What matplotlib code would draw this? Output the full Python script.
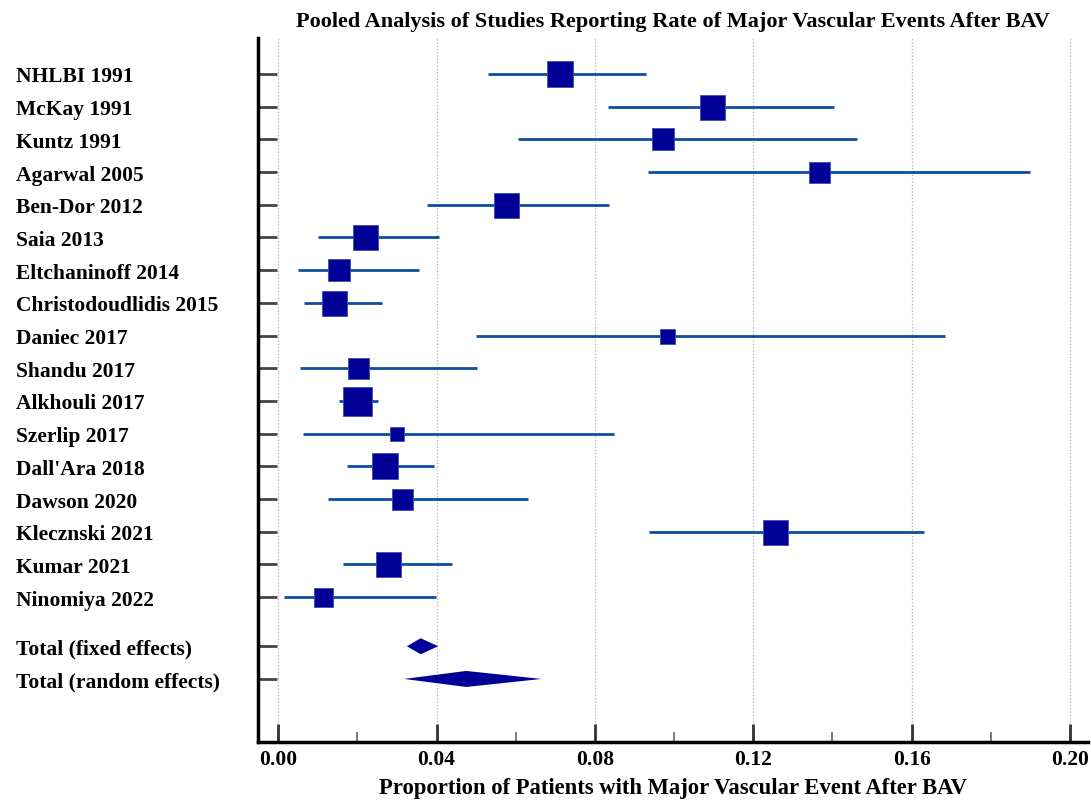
import matplotlib
matplotlib.use("Agg")
import matplotlib.pyplot as plt
from matplotlib.ticker import MultipleLocator

# Study-level estimates
studies = ["NHLBI 1991", "McKay 1991", "Kuntz 1991", "Agarwal 2005", "Ben-Dor 2012",
           "Saia 2013", "Eltchaninoff 2014", "Christodoudlidis 2015", "Daniec 2017",
           "Shandu 2017", "Alkhouli 2017", "Szerlip 2017", "Dall'Ara 2018",
           "Dawson 2020", "Klecznski 2021", "Kumar 2021", "Ninomiya 2022"]
estimate = [0.0712, 0.1096, 0.0973, 0.1365, 0.0575, 0.0218, 0.0154, 0.0141, 0.0981,
            0.0202, 0.0200, 0.0301, 0.0270, 0.0313, 0.1255, 0.0277, 0.0112]
ci_low = [0.0529, 0.0833, 0.0605, 0.0934, 0.0376, 0.0100, 0.0051, 0.0065, 0.0499,
          0.0056, 0.0154, 0.0062, 0.0175, 0.0126, 0.0936, 0.0164, 0.0015]
ci_high = [0.0929, 0.1404, 0.1462, 0.1899, 0.0835, 0.0406, 0.0356, 0.0262, 0.1684,
           0.0503, 0.0252, 0.0849, 0.0393, 0.0632, 0.1631, 0.0439, 0.0398]
# relative study weight, shown as box size (pixels)
weight = [27, 25, 22, 21, 25, 25, 23, 25, 15, 21, 29, 14, 27, 21, 25, 25, 19]

pooled_labels = ["Total (fixed effects)", "Total (random effects)"]
pooled_est = [0.0360, 0.0475]
pooled_low = [0.0325, 0.0318]
pooled_high = [0.0404, 0.0665]

x_ticks = [0, 0.04, 0.08, 0.12, 0.16, 0.20]
x_ticklabels = ["0.00", "0.04", "0.08", "0.12", "0.16", "0.20"]

plt.rcParams["font.family"] = ["Liberation Serif", "DejaVu Serif"]
plt.rcParams["font.weight"] = "bold"

fig = plt.figure(figsize=(10.91, 8.04), dpi=100)
ax = fig.add_axes([0.2365, 0.0762, 0.7605, 0.8749])

line_col = "#0d4f9e"
box_col = "#000096"

n = len(studies)
ys = list(range(n))
for i in range(n):
    ax.plot([ci_low[i], ci_high[i]], [ys[i], ys[i]], color=line_col, lw=2.0,
            solid_capstyle="butt", zorder=2)
    ax.plot(estimate[i], ys[i], marker="s", ms=weight[i] * 0.72, color=box_col,
            mec="#3a4fb0", mew=0.6, zorder=3)

# pooled estimates as diamonds
pooled_y = [n + 0.5, n + 1.5]
half_h = 0.245
for k in range(2):
    y = pooled_y[k]
    ax.fill([pooled_low[k], pooled_est[k], pooled_high[k], pooled_est[k]],
            [y, y - half_h, y, y + half_h], color=box_col, lw=0, zorder=3)

ax.set_yticks(ys + pooled_y)
ax.set_yticklabels(studies + pooled_labels, fontsize=15.5, ha="left")
ax.set_ylim(20.42, -1.09)
ax.set_xlim(-0.0051, 0.2045)

ax.xaxis.set_minor_locator(MultipleLocator(0.02))
ax.set_xticks(x_ticks)
ax.set_xticklabels(x_ticklabels, fontsize=15.5)

ax.tick_params(axis="y", direction="in", length=14, width=2, color="#444444", pad=0)
ax.tick_params(axis="x", which="major", direction="in", length=13, width=2,
               color="#333333", pad=5)
ax.tick_params(axis="x", which="minor", direction="in", length=7, width=1.2,
               color="#666666")
for lab in ax.get_yticklabels():
    lab.set_x(-0.2916)

ax.grid(axis="x", which="major", color="#b0b0b0", ls=":", lw=0.9)
ax.set_axisbelow(True)

for side in ["top", "right"]:
    ax.spines[side].set_visible(False)
ax.spines["left"].set_linewidth(2.5)
ax.spines["bottom"].set_linewidth(2.5)

ax.set_title("Pooled Analysis of Studies Reporting Rate of Major Vascular Events After BAV",
             fontsize=16, fontweight="bold", pad=9)
ax.set_xlabel("Proportion of Patients with Major Vascular Event After BAV",
              fontsize=16.3, fontweight="bold", labelpad=6)

fig.savefig("out.png", dpi=100)
